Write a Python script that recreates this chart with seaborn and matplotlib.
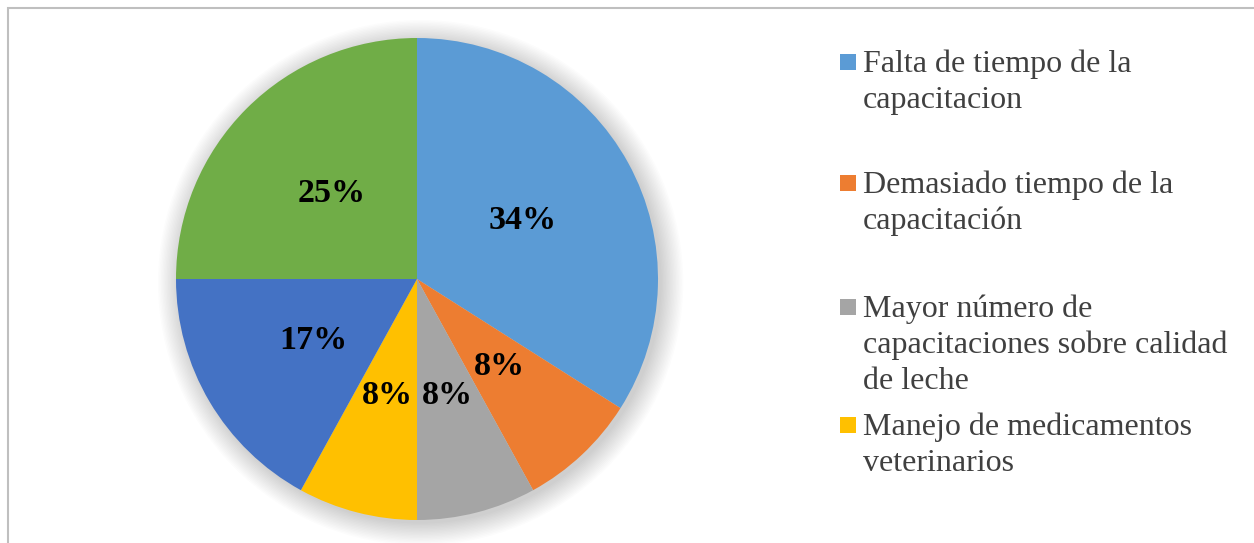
import matplotlib
matplotlib.use("Agg")
import matplotlib.pyplot as plt
from matplotlib.patches import Rectangle, Circle
import seaborn as sns

# datos del grafico
categorias = [
    "Falta de tiempo de la\ncapacitacion",
    "Demasiado tiempo de la\ncapacitación",
    "Mayor número de\ncapacitaciones sobre calidad\nde leche",
    "Manejo de medicamentos\nveterinarios",
    "Otro 1",
    "Otro 2",
]
porcentajes = [34, 8, 8, 8, 17, 25]
colores = ["#5B9BD5", "#ED7D31", "#A5A5A5", "#FFC000", "#4472C4", "#70AD47"]
n_leyenda = 4  # solo se ven cuatro entradas en la leyenda

sns.set_theme(style="white")
plt.rcParams["font.family"] = ["Liberation Serif", "DejaVu Serif"]

W, H = 1254, 543
fig = plt.figure(figsize=(W / 100, H / 100), dpi=100)
fig.patch.set_facecolor("white")

# borde del grafico (cortado abajo y a la derecha)
fig.patches.append(Rectangle((8 / W, -0.05), 1.1, (H - 8) / H + 0.05,
                             transform=fig.transFigure, fill=False,
                             edgecolor="#BFBFBF", linewidth=1.5))

# ejes de la torta: centro (417, 279) px, radio 241 px
cx, cy, r = 417, 279, 241
ax = fig.add_axes([(cx - r) / W, (H - cy - r) / H, 2 * r / W, 2 * r / H])

# sombra suave
for k in range(16):
    ax.add_patch(Circle((0.015, -0.015), 1.0 + 0.006 * k, color="black",
                        alpha=0.011, linewidth=0, zorder=0, clip_on=False))

wedges, textos, autotextos = ax.pie(
    porcentajes, colors=colores, startangle=90, counterclock=False,
    autopct=lambda p: f"{p:.0f}%", pctdistance=0.5,
    wedgeprops={"linewidth": 0},
    textprops={"fontsize": 24.5, "fontweight": "bold", "color": "black"},
)
for w in wedges:
    w.set_zorder(2)
for t in autotextos:
    t.set_zorder(3)
ax.set_xlim(-1, 1)
ax.set_ylim(-1, 1)
ax.axis("off")

# leyenda manual (solo las cuatro primeras entradas visibles)
ley_y = [72, 193, 317, 435]  # linea base de la primera linea, px
paso = 36
for i in range(n_leyenda):
    y = ley_y[i]
    fig.patches.append(Rectangle((840 / W, (H - y + 2) / H), 16 / W, 16 / H,
                                 transform=fig.transFigure,
                                 facecolor=colores[i], edgecolor="none"))
    for j, linea in enumerate(categorias[i].split("\n")):
        fig.text(863 / W, (H - y - j * paso) / H, linea, fontsize=23,
                 color="#404040", ha="left", va="baseline")

fig.savefig("out.png", dpi=100, facecolor="white")
